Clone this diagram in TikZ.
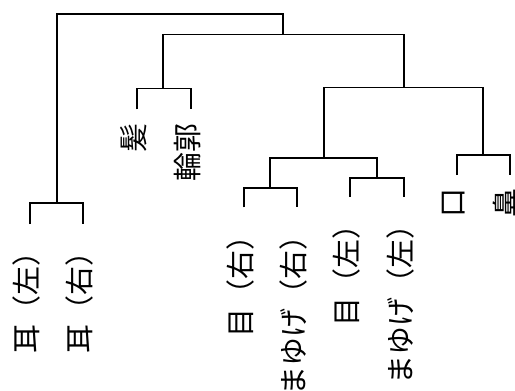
\documentclass[tikz,border=0pt]{standalone}
\usepackage{fontspec}
\newfontfamily\jpfont{Noto Sans CJK JP}
\begin{document}
\begin{tikzpicture}[x=1pt,y=-1pt,
  link/.style={line width=1.8pt,black},
  lab/.style={rotate=90,anchor=east,inner sep=0pt,font=\jpfont\fontsize{29pt}{33pt}\selectfont}]
\useasboundingbox (0,0) rectangle (515,391);
% joints
\coordinate (root) at (170,14);
\coordinate (ear)  at (57.3,203.3);
\coordinate (rest) at (283.3,34.5);
\coordinate (hair) at (163.3,88.5);
\coordinate (face) at (404.3,87.5);
\coordinate (eyes) at (324,158.3);
\coordinate (eyeR) at (270.3,188.3);
\coordinate (eyeL) at (377.3,177.7);
\coordinate (mn)   at (483.3,155);
% leaves
\coordinate (l1)  at (30,224);
\coordinate (l2)  at (83.3,224);
\coordinate (l3)  at (137,109.3);
\coordinate (l4)  at (190.7,109.3);
\coordinate (l5)  at (244,207.3);
\coordinate (l6)  at (296.7,207.3);
\coordinate (l7)  at (350,196.7);
\coordinate (l8)  at (404.3,196.7);
\coordinate (l9)  at (456.7,175);
\coordinate (l10) at (510,175);
% links
\draw[link] (ear) |- (root) -| (rest);
\draw[link] (l1) |- (ear) -| (l2);
\draw[link] (hair) |- (rest) -| (face);
\draw[link] (l3) |- (hair) -| (l4);
\draw[link] (eyes) |- (face) -| (mn);
\draw[link] (eyeR) |- (eyes) -| (eyeL);
\draw[link] (l5) |- (eyeR) -| (l6);
\draw[link] (l7) |- (eyeL) -| (l8);
\draw[link] (l9) |- (mn) -| (l10);
% labels
\tikzset{lofs/.style={xshift=-3.5pt,yshift=-13.5pt}}
\node[lab] (t1)  at ([lofs]l1)  {耳（左）};
\node[lab] (t2)  at ([lofs]l2)  {耳（右）};
\node[lab] (t3)  at ([lofs]l3)  {髪};
\node[lab] (t4)  at ([lofs]l4)  {輪郭};
\node[lab] (t5)  at ([lofs]l5)  {目（右）};
\node[lab] (t6)  at ([lofs]l6)  {まゆげ（右）};
\node[lab] (t7)  at ([lofs]l7)  {目（左）};
\node[lab] (t8)  at ([lofs]l8)  {まゆげ（左）};
\node[lab] (t9)  at ([lofs]l9)  {口};
\node[lab] (t10) at ([lofs]l10) {鼻};
\end{tikzpicture}
\end{document}
